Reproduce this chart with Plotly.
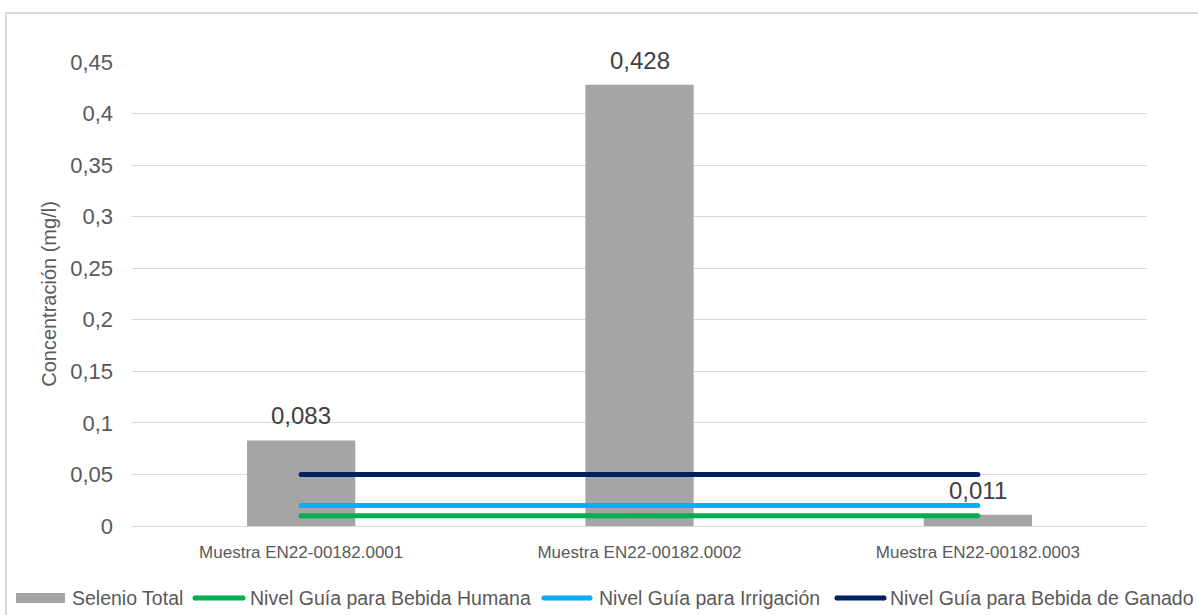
import plotly.graph_objects as go

# Sample identifiers and measured total selenium (mg/l)
muestras = ["Muestra EN22-00182.0001", "Muestra EN22-00182.0002", "Muestra EN22-00182.0003"]
selenio_total = [0.083, 0.428, 0.011]

# Guideline levels (mg/l), constant across samples
nivel_humana = [0.01, 0.01, 0.01]
nivel_irrigacion = [0.02, 0.02, 0.02]
nivel_ganado = [0.05, 0.05, 0.05]

y_ticks = [0, 0.05, 0.1, 0.15, 0.2, 0.25, 0.3, 0.35, 0.4, 0.45]

FONT = "Liberation Sans, Arial, sans-serif"
TXT = "#595959"
BAR_COLOR = "#a5a5a5"
series_lines = [
    ("Nivel Guía para Bebida Humana", nivel_humana, "#00b050"),
    ("Nivel Guía para Irrigación", nivel_irrigacion, "#00b0f0"),
    ("Nivel Guía para Bebida de Ganado", nivel_ganado, "#002060"),
]

# Plot-area geometry in pixels
L, R, T, B = 132, 51, 62, 89
FW, FH = 1198, 615
W, H = FW - L - R, FH - T - B


def px(x):
    return (x - L) / W


def py(y):
    return ((FH - B) - y) / H


fig = go.Figure()

fig.add_trace(go.Bar(
    x=muestras, y=selenio_total, name="Selenio Total",
    marker=dict(color=BAR_COLOR, line=dict(width=0)),
))

for nombre, vals, color in series_lines:
    fig.add_trace(go.Scatter(
        x=muestras, y=vals, name=nombre, mode="lines+markers",
        line=dict(color=color, width=5),
        marker=dict(color=color, size=5, line=dict(width=0)),
    ))

# Value labels above the bars
for m, v in zip(muestras, selenio_total):
    fig.add_annotation(
        x=m, y=v, text=f"{v:.3f}".replace(".", ","), showarrow=False,
        yanchor="bottom", yshift=9,
        font=dict(family=FONT, size=24, color="#404040"),
    )

# Light outer frame around the chart
fig.add_shape(
    type="rect", xref="paper", yref="paper",
    x0=px(6), x1=px(1204), y0=py(625), y1=py(13),
    line=dict(color="#d9d9d9", width=2), fillcolor="rgba(0,0,0,0)", layer="below",
)

# Single-row legend along the bottom
LEG_Y = 598
fig.add_shape(
    type="rect", xref="paper", yref="paper",
    x0=px(16), x1=px(65), y0=py(LEG_Y + 5), y1=py(LEG_Y - 5),
    fillcolor=BAR_COLOR, line=dict(width=0),
)
legend_text = [("Selenio Total", 70)]
for (nombre, _, color), (x0, x1, xt) in zip(
    series_lines, [(195, 243, 248), (544, 590, 597), (837, 884, 888)]
):
    fig.add_shape(
        type="line", xref="paper", yref="paper",
        x0=px(x0), x1=px(x1), y0=py(LEG_Y), y1=py(LEG_Y),
        line=dict(color=color, width=5),
    )
    for xc in (x0, x1):
        fig.add_shape(
            type="circle", xref="paper", yref="paper",
            x0=px(xc - 2.5), x1=px(xc + 2.5), y0=py(LEG_Y + 2.5), y1=py(LEG_Y - 2.5),
            fillcolor=color, line=dict(width=0),
        )
    legend_text.append((nombre, xt))

for texto, xt in legend_text:
    fig.add_annotation(
        xref="paper", yref="paper", x=px(xt), y=py(LEG_Y),
        xanchor="left", yanchor="middle", text=texto, showarrow=False,
        font=dict(family=FONT, size=19.5, color=TXT),
    )

fig.update_layout(
    width=FW, height=FH,
    margin=dict(l=L, r=R, t=T, b=B, autoexpand=False),
    paper_bgcolor="white", plot_bgcolor="white",
    separators=",.",
    bargap=0.68,
    font=dict(family=FONT, size=17, color=TXT),
    showlegend=False,
    xaxis=dict(
        showgrid=False, showline=True, linecolor="#d9d9d9", linewidth=1,
        ticks="", tickfont=dict(size=17, color=TXT), ticklabelstandoff=11,
    ),
    yaxis=dict(
        range=[0, 0.45], tickvals=y_ticks, showgrid=True,
        gridcolor="#d9d9d9", gridwidth=1, zeroline=False, showline=False,
        ticks="", tickfont=dict(size=22, color=TXT), ticklabelstandoff=18,
        title=dict(text="Concentración (mg/l)", font=dict(size=20, color=TXT), standoff=8),
    ),
)

fig.write_html("out.html")
